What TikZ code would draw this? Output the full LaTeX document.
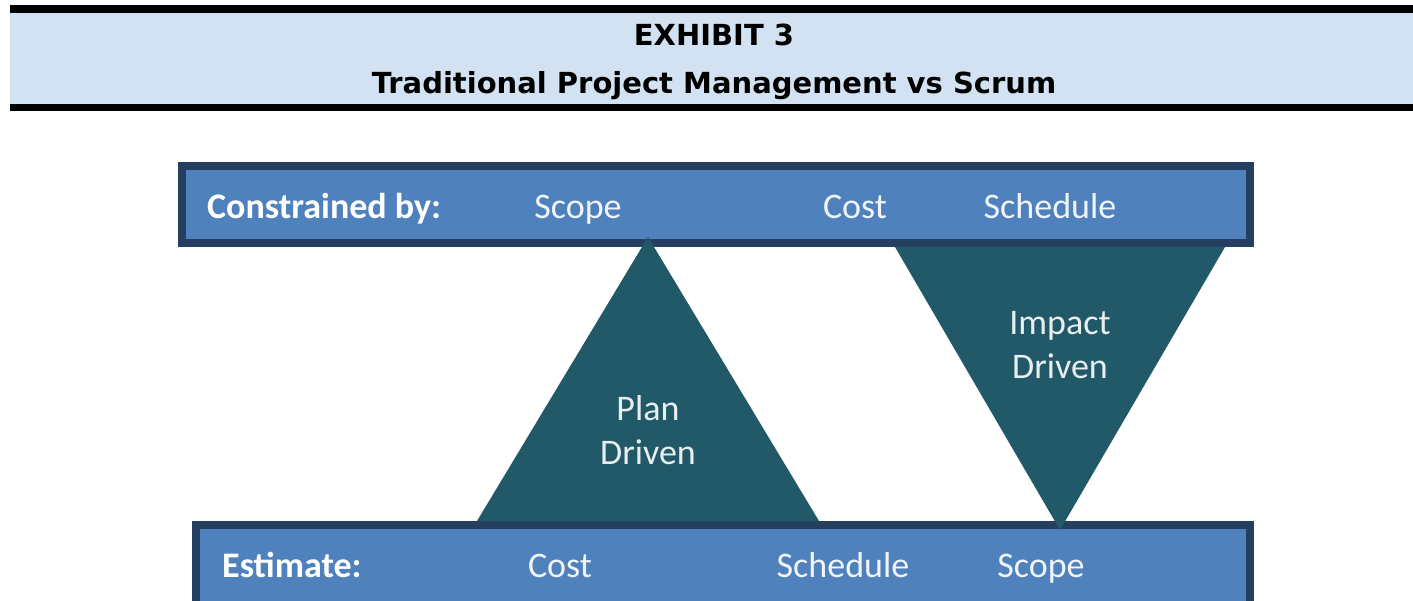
\documentclass[tikz,border=0pt]{standalone}
\usepackage{fontspec}
\setmainfont{Carlito}
\newfontfamily\headfont{DejaVu Sans}
\definecolor{bandblue}{HTML}{D3E2F2}
\definecolor{barfill}{HTML}{4F81BD}
\definecolor{barline}{HTML}{243F60}
\definecolor{teal}{HTML}{215968}
\tikzset{
  barbox/.style={fill=barfill, draw=barline, line width=8pt},
  tri/.style={fill=teal},
  barlabel/.style={text=white, font=\fontsize{36}{40}\selectfont\bfseries, anchor=base west, inner sep=0pt},
  baritem/.style={text=white!92!barfill, font=\fontsize{36}{40}\selectfont, anchor=base, inner sep=0pt},
  trilabel/.style={text=white!90!teal, font=\fontsize{36}{44}\selectfont, align=center, inner sep=0pt},
  headtext/.style={font=\headfont\bfseries\fontsize{29}{32}\selectfont, anchor=base, inner sep=0pt}
}
\begin{document}
\begin{tikzpicture}[x=1pt,y=-1pt]
  \useasboundingbox[fill=white] (0,0) rectangle (1413,601);
  % title band with black rules
  \fill[bandblue] (10,13) rectangle (1413,104);
  \fill[black] (10,5) rectangle (1413,13);
  \fill[black] (10,104) rectangle (1413,111);
  \node[headtext] (exh) at (714,46) {EXHIBIT 3};
  \node[headtext] (ttl) at (714,94) {Traditional Project Management vs Scrum};
  % bars
  \begin{scope}
    \clip (0,0) rectangle (1413,601);
    \draw[barbox] (182,166) rectangle (1250,243);
    \draw[barbox] (196,525) rectangle (1250,620);
  \end{scope}
  % plan-driven triangle (apex up) and impact-driven triangle (apex down)
  \coordinate (pa) at (648,237);
  \coordinate (pl) at (477,521);
  \coordinate (pr) at (819,521);
  \fill[tri] (pa) -- (pl) -- (pr) -- cycle;
  \coordinate (il) at (895,247);
  \coordinate (ir) at (1225,247);
  \coordinate (ia) at (1060,530);
  \fill[tri] (il) -- (ir) -- (ia) -- cycle;
  \node[trilabel] (plan) at (648,430) {Plan\\Driven};
  \node[trilabel] (impact) at (1060,345) {Impact\\Driven};
  % top bar labels
  \node[barlabel] (cby) at (207,219) {Constrained by:};
  \node[baritem] (tscope) at (578,219) {Scope};
  \node[baritem] (tcost) at (855,219) {Cost};
  \node[baritem] (tsched) at (1050,219) {Schedule};
  % bottom bar labels
  \node[barlabel] (est) at (222,577) {Estimate:};
  \node[baritem] (bcost) at (560,577) {Cost};
  \node[baritem] (bsched) at (843,577) {Schedule};
  \node[baritem] (bscope) at (1041,577) {Scope};
\end{tikzpicture}
\end{document}
